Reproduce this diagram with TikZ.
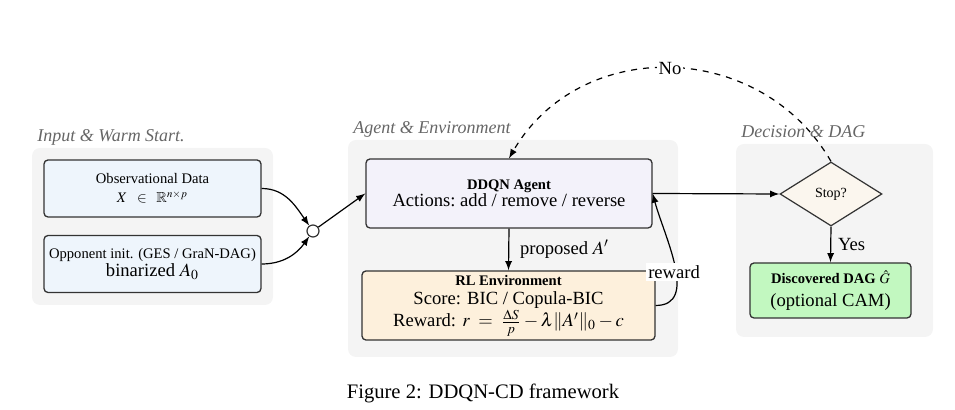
\documentclass[tikz,border=0pt]{standalone}
\usepackage{amsmath}
\usepackage{mathptmx}
\usepackage{amssymb}
\usepackage[no-math]{fontspec}
\setmainfont{Liberation Serif}
\usetikzlibrary{shapes.geometric,arrows}

\definecolor{groupgray}{RGB}{244,244,244}
\definecolor{obsblue}{RGB}{238,245,252}
\definecolor{agentlav}{RGB}{243,242,250}
\definecolor{envpeach}{RGB}{253,240,220}
\definecolor{stopcream}{RGB}{251,246,238}
\definecolor{dagreen}{RGB}{194,248,192}
\newcommand{\minitext}{\fontsize{7.3}{8.5}\selectfont}

\begin{document}
\begin{tikzpicture}[>=latex, x=0.5pt, y=0.5pt,
    every node/.style={font=\fontsize{9.3}{9.5}\selectfont},
    group/.style={fill=groupgray, rounded corners=4pt},
    grouplabel/.style={font=\fontsize{9}{10}\selectfont\itshape, text=black!60, inner sep=0pt, anchor=base west},
    box/.style={draw=black!80, line width=0.65pt, rounded corners=2pt, align=center, inner sep=2pt},
    flow/.style={->, line width=0.6pt},
    tag/.style={fill=white, inner sep=1pt},
  ]
    \useasboundingbox (0,0) rectangle (955,-410);
    \fill[group] (32,-148) rectangle (273,-305);
    \fill[group] (348,-140) rectangle (678,-357);
    \fill[group] (736,-144) rectangle (933,-337);
    \node[grouplabel] (inputlabel) at (37,-142) {Input \& Warm Start.};
    \node[grouplabel] (agentlabel) at (353,-134) {Agent \& Environment};
    \node[grouplabel] (declabel) at (741,-138) {Decision \& DAG};

    \node[box, fill=obsblue, minimum width=108.5pt, minimum height=28.5pt] (obs) at (152.5,-188.5)
      {{\minitext Observational Data}\\[0pt]{\minitext $X\;\;\in\;\;\mathbb{R}^{n\times p}$}};
    \node[box, fill=obsblue, minimum width=108.5pt, minimum height=28.5pt] (opp) at (152.5,-264)
      {{\minitext Opponent init. (GES / GraN-DAG)}\\[-0.5pt]binarized $A_0$};
    \node[draw=black!80, fill=white, circle, line width=0.6pt, minimum size=6pt, inner sep=0pt] (merge) at (313,-231) {};

    \node[box, fill=agentlav, minimum width=143pt, minimum height=34.5pt] (agent) at (509,-193.5)
      {{\minitext\bfseries DDQN Agent}\\[-1pt]Actions:\ add / remove / reverse};
    \node[box, fill=envpeach, minimum width=146.5pt, minimum height=33.5pt] (env) at (508.5,-305.5)
      {{\minitext\bfseries RL Environment}\\[0pt]Score: BIC / Copula-BIC\\[0pt]Reward: $r\;=\;\frac{\Delta S}{p}-\lambda\|A'\|_0-c$};

    \node[draw=black!80, fill=stopcream, diamond, line width=0.6pt, minimum width=51pt, minimum height=32pt, inner sep=0pt,
      font=\fontsize{7}{8}\selectfont] (stop) at (831,-194) {Stop?};
    \node[box, fill=dagreen, minimum width=80.5pt, minimum height=27.5pt] (result) at (830.5,-290.5)
      {{\minitext\bfseries Discovered DAG $\hat{G}$}\\[2pt](optional CAM)};

    \draw[flow] (obs.east) to[out=0,in=125] (merge);
    \draw[flow] (opp.east) to[out=0,in=-125] (merge);
    \draw[flow] (merge) -- (agent.west);
    \draw[flow] (agent.south) -- (env.north) node[midway,right,xshift=2pt] {proposed $A'$};
    \draw[flow] (env.east) to[out=0,in=-75] node[tag,pos=0.45,xshift=-1pt] {reward} (agent.east);
    \draw[flow] (agent.east) -- (stop.west);
    \draw[flow] (stop.south) -- (result.north) node[midway,right] {Yes};
    \draw[flow, dashed] (stop.north) to[out=120,in=60,looseness=1.12] node[tag] {No} (agent.north);

    \node[font=\fontsize{10.3}{12}\selectfont] (caption) at (483,-393) {Figure 2: DDQN-CD framework};
  \end{tikzpicture}
\end{document}
